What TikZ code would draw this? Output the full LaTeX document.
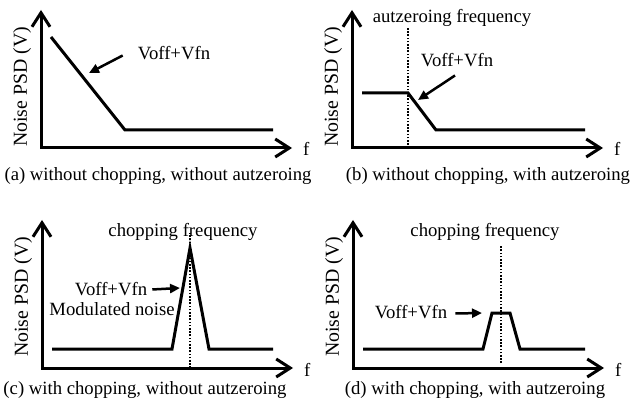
\documentclass[tikz,border=0pt]{standalone}
\usepackage{fontspec}
\setmainfont{Liberation Serif}
\usetikzlibrary{arrows.meta,positioning}

\tikzset{
  axis/.style={line width=3pt,line join=miter,
    {Straight Barb[length=14pt,width=18pt,line width=3pt]}-{Straight Barb[length=14pt,width=18pt,line width=3pt]}},
  psd/.style={line width=3pt,line join=miter},
  freqline/.style={line width=1.5pt,dash pattern=on 1.6pt off 1.6pt},
  callout/.style={line width=2.5pt,-{Triangle[length=10pt,width=9pt]}},
  lbl/.style={font=\fontsize{18.7}{22}\selectfont,inner sep=0pt},
  ylbl/.style={font=\fontsize{19.8}{23}\selectfont,inner sep=0pt,rotate=90},
}

\begin{document}
\begin{tikzpicture}[x=1pt,y=1pt]
  \useasboundingbox (0,0) rectangle (631,407);
  % (a) without chopping, without autzeroing
  \begin{scope}[shift={(41,259)}]
    \draw[axis] (0,138) -- (0,0) -- (251,0);
    \node[ylbl] (ya) at (-19,61) {Noise PSD (V)};
    \node[lbl,anchor=base west] (fa) at (262,-8) {f};
    \draw[psd] (10,111) -- (84,18) -- (232,18);
    \node[lbl,anchor=base] (va) at (133,88) {Voff+Vfn};
    \coordinate (va-tip) at (48,75);
    \draw[callout] ([xshift=-15pt,yshift=5pt]va.south west) -- (va-tip);
    \node[lbl] (capa) at (117,-28) {(a) without chopping, without autzeroing};
  \end{scope}
  % (b) without chopping, with autzeroing
  \begin{scope}[shift={(352,259)}]
    \draw[axis] (0,138) -- (0,0) -- (251,0);
    \node[ylbl] (yb) at (-19,61) {Noise PSD (V)};
    \node[lbl,anchor=base west] (fb) at (262,-8) {f};
    \draw[freqline] (56,0) -- (56,120);
    \node[lbl,anchor=base] (azf) at (100,125) {autzeroing frequency};
    \draw[psd] (10,55) -- (56,55) -- (84,18) -- (233,18);
    \node[lbl,anchor=base] (vb) at (105,81) {Voff+Vfn};
    \coordinate (vb-tip) at (66,48);
    \draw[callout] ([xshift=-2pt,yshift=-8pt]vb.south) -- (vb-tip);
    \node[lbl] (capb) at (136,-28) {(b) without chopping, with autzeroing};
  \end{scope}
  % (c) with chopping, without autzeroing
  \begin{scope}[shift={(42,39)}]
    \draw[axis] (0,148) -- (0,0) -- (251,0);
    \node[ylbl] (yc) at (-19,71) {Noise PSD (V)};
    \node[lbl,anchor=base west] (fc) at (262,-8) {f};
    \node[lbl,anchor=base] (chc) at (141,131) {chopping frequency};
    \draw[freqline] (148,0) -- (148,135);
    \draw[psd] (10,19) -- (130,19) -- (148,120) -- (167,19) -- (231,19);
    \node[lbl,anchor=base] (vc) at (69,73) {Voff+Vfn};
    \node[lbl,anchor=base] (mnc) at (70,53) {Modulated noise};
    \coordinate (vc-tip) at (138,80);
    \draw[callout] ([xshift=5pt,yshift=6pt]vc.south east) -- (vc-tip);
    \node[lbl] (capc) at (103,-22) {(c) with chopping, without autzeroing};
  \end{scope}
  % (d) with chopping, with autzeroing
  \begin{scope}[shift={(353,39)}]
    \draw[axis] (0,148) -- (0,0) -- (251,0);
    \node[ylbl] (yd) at (-19,71) {Noise PSD (V)};
    \node[lbl,anchor=base west] (fd) at (262,-8) {f};
    \node[lbl,anchor=base] (chd) at (132,131) {chopping frequency};
    \draw[freqline] (148,5) -- (148,123);
    \draw[psd] (10,19) -- (130,19) -- (139,55) -- (157,55) -- (167,19) -- (232,19);
    \node[lbl,anchor=base] (vd) at (58,50) {Voff+Vfn};
    \coordinate (vd-tip) at (129,55);
    \draw[callout] ([xshift=8pt,yshift=5pt]vd.south east) -- (vd-tip);
    \node[lbl] (capd) at (122,-22) {(d) with chopping, with autzeroing};
  \end{scope}
\end{tikzpicture}
\end{document}
